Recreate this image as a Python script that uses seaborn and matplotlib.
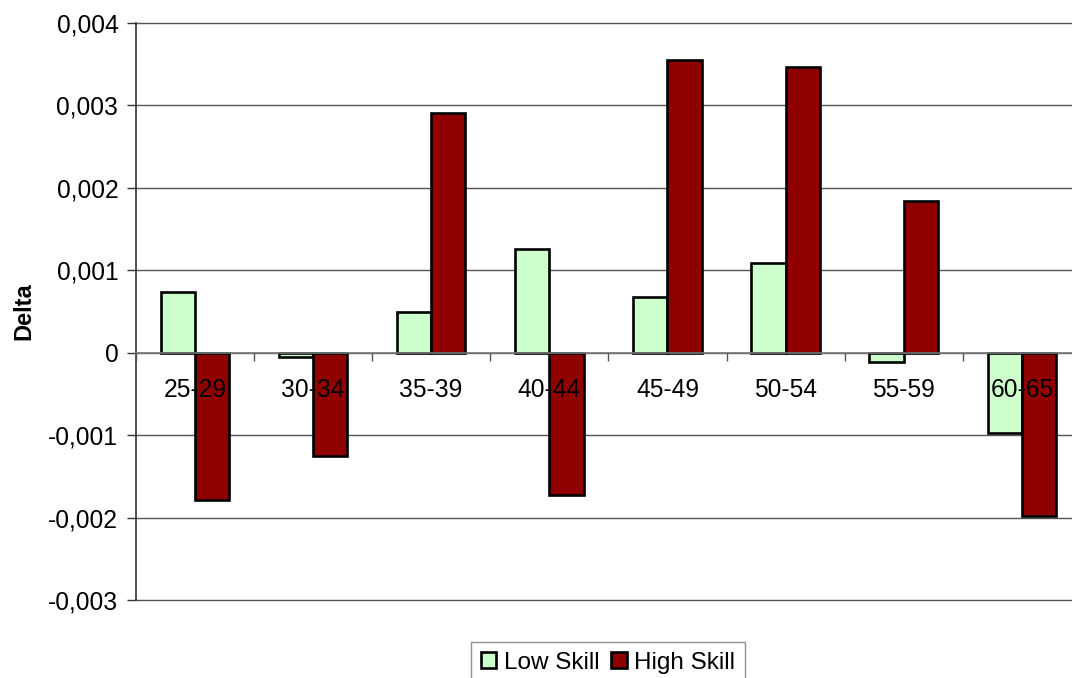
import numpy as np
import pandas as pd
import seaborn as sns
import matplotlib
matplotlib.use("Agg")
import matplotlib.pyplot as plt
from matplotlib.ticker import FuncFormatter, FixedLocator

categories = ["25-29", "30-34", "35-39", "40-44", "45-49", "50-54", "55-59", "60-65"]
low_skill = [0.00074, -0.00005, 0.000495, 0.00126, 0.00067, 0.00109, -0.00011, -0.00097]
high_skill = [-0.00179, -0.00126, 0.0029, -0.00173, 0.00355, 0.00346, 0.00184, -0.00198]
series_names = ["Low Skill", "High Skill"]
y_ticks = [-0.003, -0.002, -0.001, 0.0, 0.001, 0.002, 0.003, 0.004]

df = pd.DataFrame({
    "age": categories * 2,
    "delta": low_skill + high_skill,
    "skill": [series_names[0]] * len(categories) + [series_names[1]] * len(categories),
})

sns.set_theme(style="white")
plt.rcParams["font.family"] = ["Liberation Sans", "DejaVu Sans"]
plt.rcParams["text.color"] = "black"
plt.rcParams["axes.labelcolor"] = "black"

W, H = 1072, 678
fig = plt.figure(figsize=(W / 100, H / 100), dpi=100)
left, right, top, bottom = 135.7, 1081, 22.7, 600
ax = fig.add_axes([left / W, 1 - bottom / H, (right - left) / W, (bottom - top) / H])

sns.barplot(data=df, x="age", y="delta", hue="skill", order=categories,
            hue_order=series_names, palette=["#CCFFCC", "#900000"], saturation=1,
            width=0.58, edgecolor="black", linewidth=1.9, ax=ax, legend=True)

ax.set_ylim(-0.003, 0.004)
ax.set_xlim(-0.5, len(categories) - 0.5)
ax.yaxis.set_major_locator(FixedLocator(y_ticks))
ax.yaxis.set_major_formatter(FuncFormatter(
    lambda v, p: "0" if abs(v) < 1e-12 else f"{v:.3f}".replace(".", ",")))
ax.grid(axis="y", color="#555555", linewidth=1.0)
for gl in ax.get_ygridlines():
    gl.set_clip_on(False)
ax.set_axisbelow(True)
ax.xaxis.set_zorder(5)

for s in ["top", "right"]:
    ax.spines[s].set_visible(False)
ax.spines["left"].set_color("#333333")
ax.spines["left"].set_linewidth(1.2)
ax.spines["bottom"].set_position(("data", 0))
ax.spines["bottom"].set_color("#777777")
ax.spines["bottom"].set_linewidth(1.2)

ax.tick_params(axis="y", which="major", direction="out", length=6.5, width=1,
               color="#333333", labelsize=17.7, pad=6, left=True, labelcolor="black")
ax.tick_params(axis="x", which="major", length=0, labelsize=17.7, pad=18.5, labelcolor="black")
ax.set_xticks(np.arange(len(categories)) - 0.5, minor=True)
ax.tick_params(axis="x", which="minor", direction="out", length=6, width=1, color="#555555",
               bottom=True)

ax.set_xlabel("")
ax.set_ylabel("Delta", fontsize=17, fontweight="bold", labelpad=9, color="black")

h, l = ax.get_legend_handles_labels()
ax.get_legend().remove()
leg = fig.legend(h, l, loc="upper center", bbox_to_anchor=(608 / W, 1 - 642 / H),
                 ncol=2, frameon=True, fancybox=False, fontsize=17.5,
                 handlelength=0.65, handleheight=0.65, handletextpad=0.3,
                 columnspacing=0.5, borderpad=0.4, borderaxespad=0, labelcolor="black")
leg.get_frame().set_edgecolor("#777777")
leg.get_frame().set_linewidth(1.0)

fig.savefig("out.png", dpi=100)
